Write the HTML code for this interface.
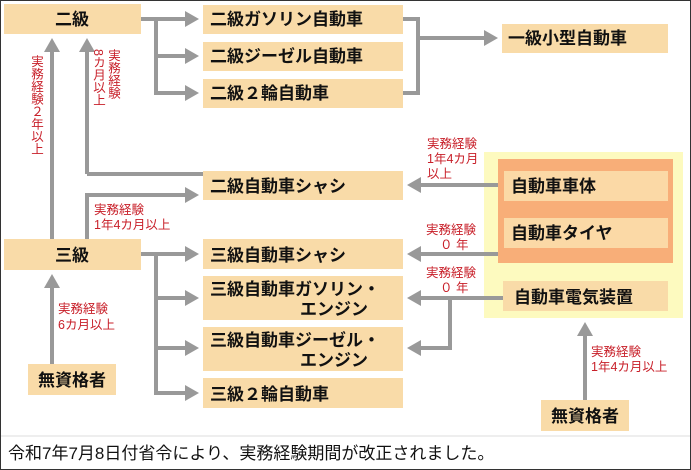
<!DOCTYPE html>
<html><head><meta charset="utf-8"><style>
body{margin:0;background:#fff}
svg{display:block}
text{font-family:"Liberation Sans","Noto Sans CJK JP",sans-serif}
.b{font-size:17px;font-weight:bold;fill:#111}
.r{font-size:12.5px;fill:#c8202a}
</style></head><body>
<svg width="691" height="470" viewBox="0 0 691 470">
<defs><marker id="a" markerWidth="4" markerHeight="4" refX="2" refY="2" orient="auto" markerUnits="strokeWidth"><path d="M0,0 L3.5,2 L0,4 z" fill="#999"/></marker></defs>
<rect x="0.5" y="0.5" width="690" height="469" fill="#fff" stroke="#333"/>
<rect x="484" y="152" width="199" height="166" fill="#fdfabf"/>
<rect x="498" y="159" width="175" height="104" fill="#f8ae78"/>
<g fill="#f9dba8">
<rect x="4" y="4" width="137" height="30"/>
<rect x="203" y="5" width="200" height="29"/>
<rect x="203" y="42" width="200" height="29"/>
<rect x="203" y="79" width="200" height="29"/>
<rect x="502" y="24" width="166" height="29"/>
<rect x="203" y="171" width="200" height="29"/>
<rect x="4" y="239" width="137" height="31"/>
<rect x="203" y="239" width="200" height="30"/>
<rect x="203" y="276" width="200" height="44"/>
<rect x="203" y="327" width="200" height="44"/>
<rect x="203" y="378" width="200" height="30"/>
<rect x="28" y="364" width="88" height="31"/>
<rect x="541" y="400" width="88" height="31"/>
<rect x="503" y="281" width="165" height="30"/>
</g>
<rect x="504" y="171" width="164" height="30" fill="#fbd9a6"/>
<rect x="504" y="218" width="164" height="30" fill="#fbd9a6"/>
<g stroke="#999" stroke-width="4" fill="none">
<path d="M141 19 H193" marker-end="url(#a)"/>
<path d="M156 19 V93 H193 M156 56 H193" marker-end="url(#a)"/>
<path d="M156 93 H193" marker-end="url(#a)"/>
<path d="M403 19 H418 V93 H403 M418 38 H492" marker-end="url(#a)"/>
<path d="M52 239 V44" marker-end="url(#a)"/>
<path d="M87 174 V44" marker-end="url(#a)"/>
<path d="M203 174 H87"/>
<path d="M87 239 V195 H193" marker-end="url(#a)"/>
<path d="M498 185 H413" marker-end="url(#a)"/>
<path d="M498 254 H413" marker-end="url(#a)"/>
<path d="M503 298 H413" marker-end="url(#a)"/>
<path d="M450 298 V348 H413" marker-end="url(#a)"/>
<path d="M141 254 H193" marker-end="url(#a)"/>
<path d="M156 254 V393 H193" marker-end="url(#a)"/>
<path d="M156 298 H193" marker-end="url(#a)"/>
<path d="M156 348 H193" marker-end="url(#a)"/>
<path d="M52 364 V280" marker-end="url(#a)"/>
<path d="M585 400 V328" marker-end="url(#a)"/>
</g>
<g class="b">
<text x="72" y="25" text-anchor="middle">二級</text>
<text x="210" y="25">二級ガソリン自動車</text>
<text x="210" y="62">二級ジーゼル自動車</text>
<text x="210" y="99">二級２輪自動車</text>
<text x="508" y="44">一級小型自動車</text>
<text x="210" y="192">二級自動車シャシ</text>
<text x="511" y="192">自動車車体</text>
<text x="511" y="239">自動車タイヤ</text>
<text x="514" y="303">自動車電気装置</text>
<text x="72" y="261" text-anchor="middle">三級</text>
<text x="210" y="261">三級自動車シャシ</text>
<text x="210" y="295">三級自動車ガソリン・</text>
<text x="300" y="315">エンジン</text>
<text x="210" y="346">三級自動車ジーゼル・</text>
<text x="300" y="366">エンジン</text>
<text x="210" y="400">三級２輪自動車</text>
<text x="72" y="386" text-anchor="middle">無資格者</text>
<text x="585" y="422" text-anchor="middle">無資格者</text>
</g>
<g class="r">
<text x="36" y="55" style="writing-mode:tb">実務経験２年以上</text>
<text x="113" y="49" style="writing-mode:tb">実務経験</text>
<text x="98" y="49" style="writing-mode:tb">8カ月以上</text>
<text x="94" y="214">実務経験</text>
<text x="94" y="229">1年4カ月以上</text>
<text x="427" y="148">実務経験</text>
<text x="427" y="163">1年4カ月</text>
<text x="427" y="178">以上</text>
<text x="426" y="234">実務経験</text>
<text x="440" y="249">０ 年</text>
<text x="426" y="277">実務経験</text>
<text x="440" y="292">０ 年</text>
<text x="58" y="313">実務経験</text>
<text x="58" y="329">6カ月以上</text>
<text x="591" y="356">実務経験</text>
<text x="591" y="371">1年4カ月以上</text>
</g>
<line x1="1" y1="436" x2="690" y2="436" stroke="#ddd"/>
<text x="8" y="459" style="font-size:17px;fill:#111">令和7年7月8日付省令により、実務経験期間が改正されました。</text>
</svg>
</body></html>
